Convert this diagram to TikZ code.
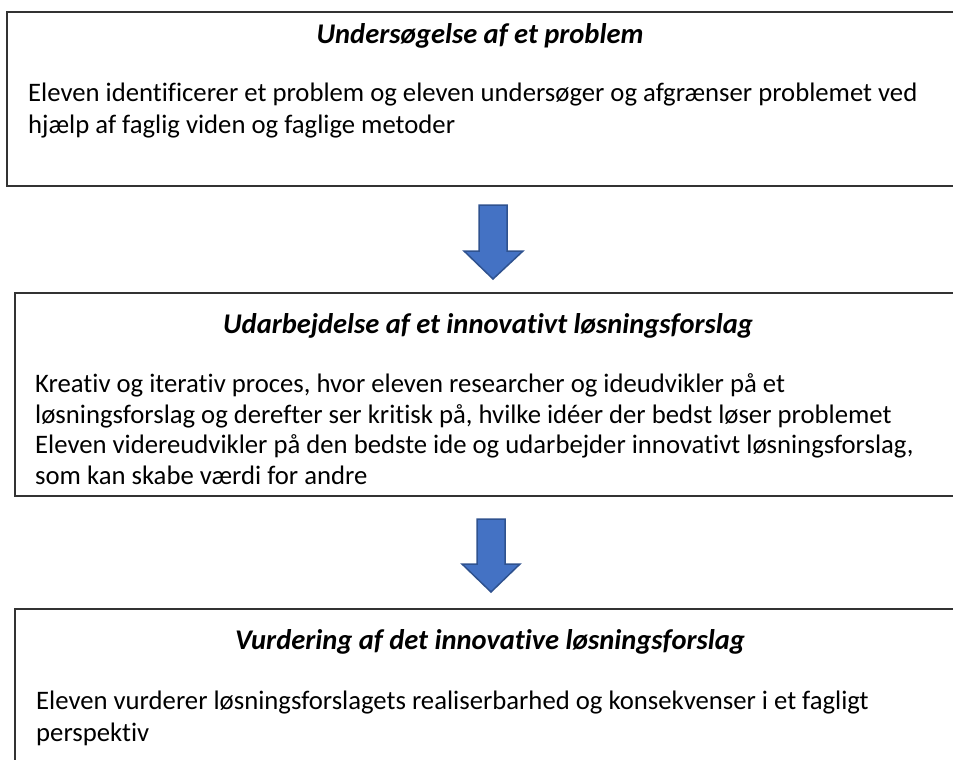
\documentclass[tikz,border=0pt]{standalone}
\usepackage{fontspec}
\setmainfont{Carlito}[Ligatures={NoCommon}]
\begin{document}
\begin{tikzpicture}[x=1pt,y=-1pt,
  box/.style={draw=black!80, line width=1.3pt, fill=none},
  ttl/.style={font=\fontsize{28.5}{33}\selectfont\bfseries\itshape, anchor=base, inner sep=0pt},
  txt/.style={font=\fontsize{26.7}{31}\selectfont, anchor=base west, inner sep=0pt},
  blockarrow/.style={fill=arrowblue, draw=arrowedge, line width=1.5pt, line join=miter}]
\definecolor{arrowblue}{HTML}{4472C4}
\definecolor{arrowedge}{HTML}{2F528F}
\useasboundingbox (0,0) rectangle (953,760);
% boxes
\draw[box] (7,12) rectangle (955,186);
\draw[box] (15,293) rectangle (963,496);
\draw[box] (15,609) rectangle (963,790);
% box 1
\node[ttl] (t1) at (480,44) {Undersøgelse af et problem};
\node[txt] (l11) at (28,101) {Eleven identificerer et problem og eleven undersøger og afgrænser problemet ved};
\node[txt] (l12) at (28,133) {hjælp af faglig viden og faglige metoder};
% box 2
\node[ttl] (t2) at (488,333) {Udarbejdelse af et innovativt løsningsforslag};
\node[txt] (l21) at (35,392) {Kreativ og iterativ proces, hvor eleven researcher og ideudvikler på et};
\node[txt] (l22) at (35,423) {løsningsforslag og derefter ser kritisk på, hvilke idéer der bedst løser problemet};
\node[txt] (l23) at (35,453) {Eleven videreudvikler på den bedste ide og udarbejder innovativt løsningsforslag,};
\node[txt] (l24) at (35,484) {som kan skabe værdi for andre};
% box 3
\node[ttl] (t3) at (490,649) {Vurdering af det innovative løsningsforslag};
\node[txt] (l31) at (36,709) {Eleven vurderer løsningsforslagets realiserbarhed og konsekvenser i et fagligt};
\node[txt] (l32) at (36,741) {perspektiv};
% arrows
\draw[blockarrow] (479,205) -- (507,205) -- (507,251) -- (523,251) -- (493,279) -- (464,251) -- (479,251) -- cycle;
\draw[blockarrow] (477,519) -- (505,519) -- (505,564) -- (520,564) -- (491,592) -- (462,564) -- (477,564) -- cycle;
\end{tikzpicture}
\end{document}
